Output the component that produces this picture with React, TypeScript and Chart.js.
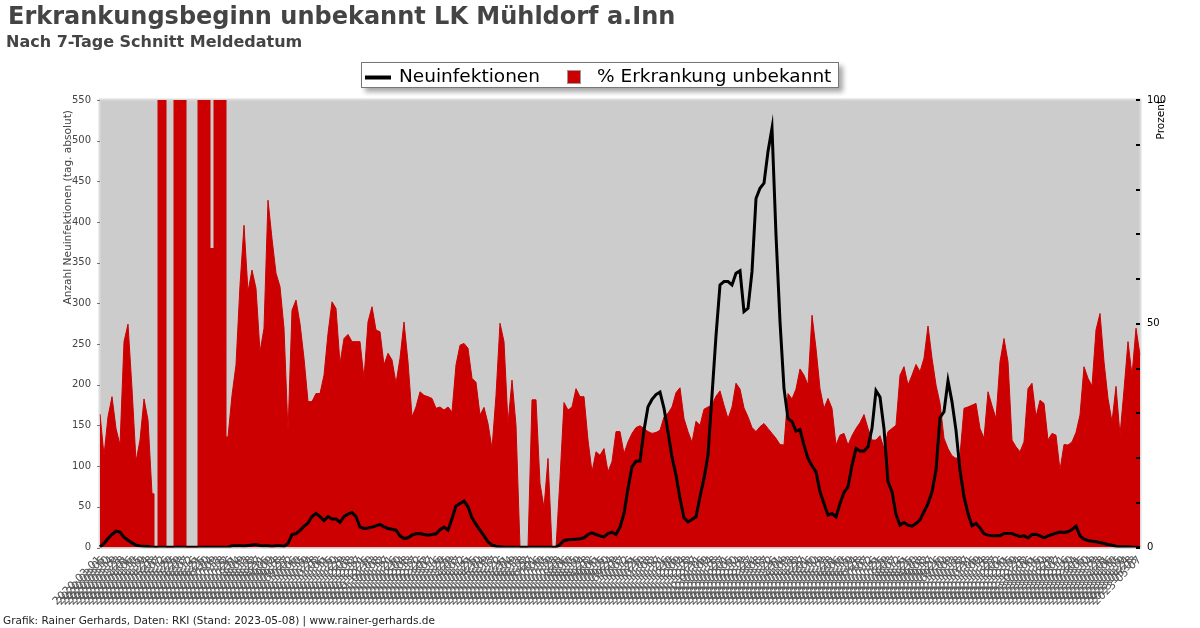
import React, { useEffect, useRef } from "react";
import { Chart, registerables } from "chart.js";

Chart.register(...registerables);

const FONT = '"DejaVu Sans", sans-serif';

const TITLE = "Erkrankungsbeginn unbekannt LK Mühldorf a.Inn";
const SUBTITLE = "Nach 7-Tage Schnitt Meldedatum";
const FOOTER = "Grafik: Rainer Gerhards, Daten: RKI (Stand: 2023-05-08) | www.rainer-gerhards.de";
const LEFT_AXIS_TITLE = "Anzahl Neuinfektionen (tag. absolut)";
const RIGHT_AXIS_TITLE = "Prozent";
const SERIES_LINE = "Neuinfektionen";
const SERIES_AREA = "% Erkrankung unbekannt";

const FIRST_DAY = "2020-03-01";
const LAST_DAY = "2023-05-07";

const LEFT_MAX = 550;
const LEFT_STEP = 50;
const RIGHT_MAX = 100;
const RIGHT_STEP = 10;
const RIGHT_LABELS = [0, 50, 100];

// sample range (spring 2020) where the share jumps between 0 % and 100 % in blocks
const BLOCK_FIRST = 13;
const BLOCK_LAST = 32;

// % of cases with unknown onset of illness (right axis), sampled every ~4.5 days
const percentUnknown = [
  29.8, 20.6, 29.2, 33.7, 26.6, 22.9, 46, 49.9, 35.5, 19.2,
  24, 33.2, 28.5, 12, 0, 100, 100, 0, 0, 100,
  100, 100, 0, 0, 0, 100, 100, 100, 66.8, 100,
  100, 100, 24.7, 34, 40.8, 58.6, 72, 57.2, 62, 57.9,
  43.7, 49, 77.6, 69, 61.3, 58.3, 49, 25.9, 53, 55.3,
  50, 42.3, 32.6, 32.6, 34.4, 34.4, 38.5, 47.8, 54.9, 53.4,
  41.1, 46.7, 47.6, 46, 46, 46, 37.8, 50.4, 53.8, 48.6,
  48.2, 40.8, 43.4, 41.9, 36.7, 42.3, 50.4, 41.5, 29.2, 31.4,
  34.8, 34, 33.7, 33.3, 31.1, 31.4, 30.7, 31.4, 30.3, 40.8,
  45.2, 45.6, 44.5, 37.8, 36.9, 29.6, 31.3, 27.7, 22.1, 34,
  50.1, 46, 27.7, 37.4, 27.3, 0, 0, 0, 33, 33,
  14.3, 8.9, 19.9, 0, 0, 15.4, 32.4, 30.7, 31.4, 35.5,
  33.7, 33.7, 24, 16.9, 21.4, 20.6, 22.1, 16.9, 19.2, 25.9,
  25.9, 21, 23.6, 25.5, 26.8, 27.2, 26.6, 25.9, 25.5, 25.7,
  26.2, 29.2, 30, 31.4, 34.6, 35.7, 28.8, 25.9, 23.5, 28.2,
  27.3, 30.9, 31.4, 31.8, 33.8, 35, 31.8, 28.8, 31.4, 36.7,
  35.4, 31.2, 29.2, 26.8, 25.9, 27, 27.7, 26.6, 25.5, 24.4,
  23, 22.9, 34.4, 33.2, 35.4, 39.9, 38.5, 36.3, 51.9, 44.5,
  35.5, 31.1, 33.3, 31.1, 22.9, 25.1, 25.5, 22.9, 25, 26.6,
  27.9, 29.7, 26.6, 24, 24, 25, 22.1, 25.9, 26.6, 27.3,
  38.5, 40.4, 36.3, 38.5, 40.9, 39.3, 42.3, 49.5, 42.3, 36.3,
  32.2, 24.4, 22.1, 20.5, 19.9, 20.6, 31.1, 31.4, 31.8, 32.2,
  26.6, 24.4, 34.8, 31.7, 28.8, 41.5, 46.7, 41.5, 24, 22.5,
  21.4, 23.6, 35.5, 36.7, 29.2, 32.9, 32.2, 24, 25.5, 25.1,
  17.3, 23, 22.9, 23.6, 25.7, 29.6, 40.4, 37.8, 36.1, 48.6,
  52.3, 41.5, 33.3, 28.1, 36, 25.1, 35.2, 46, 38.5, 49,
  43,
];

// new infections, 7-day average by reporting date (left axis)
const newInfections = [
  0.8, 5, 11, 16, 20, 19, 12.7, 9, 5.7, 2.9,
  2, 1.6, 1.2, 0.4, 0.4, 0.4, 0.4, 0.4, 0.4, 0.4,
  0.4, 0.4, 0.4, 0.4, 0.4, 0.4, 0.4, 0.4, 0.4, 0.4,
  0.4, 0.4, 0.4, 2, 2, 2.5, 2, 2.5, 3, 3.7,
  2.5, 2, 2, 1.6, 2, 2, 1.6, 5, 16, 17,
  21, 26, 30, 38, 42, 38, 33, 38, 35, 35,
  31, 38, 41, 43, 38, 25, 23.4, 24, 25, 26.6,
  28.3, 25.4, 23.4, 22.5, 21.3, 14.3, 11, 11.9, 15.2, 16.8,
  17.2, 16, 15.2, 16, 16.8, 22, 25, 21.3, 35.7, 51,
  54, 57, 50, 36.5, 28.3, 21.3, 14.3, 7, 2.9, 1.6,
  0.8, 0.3, 0.3, 0.3, 0.3, 0.3, 0.3, 0.3, 0.3, 0.3,
  0.3, 0.3, 0.3, 0.3, 0.3, 3.7, 8.6, 9.4, 9.8, 10.2,
  10.7, 11.9, 16, 18, 16, 14.3, 13.1, 17.2, 18.9, 16,
  25, 41.8, 72.6, 99.2, 106, 106, 144, 173, 182, 188,
  191, 171, 142, 111, 89, 60, 36.5, 31.6, 34.4, 37.7,
  62.3, 84.9, 113.6, 187, 260, 322.7, 326.8, 326.8, 322.7, 337,
  340, 290, 294, 339, 429, 441.6, 447.7, 486.7, 515.4, 384,
  277.6, 195.6, 158.7, 154.6, 143, 145, 125.9, 109.5, 100.5, 93,
  68.5, 54, 39.8, 41.8, 37.7, 54, 67.7, 74.6, 101, 121.8,
  118.5, 118.5, 123.8, 146.4, 192.7, 185, 146, 80.8, 68.5, 40.6,
  27.5, 30.8, 27.5, 26.2, 29.5, 34, 43.9, 54, 68.5, 95,
  159.5, 166.8, 205, 179, 144, 95, 62.3, 41.8, 26.6, 29.5,
  24.2, 16.8, 15.2, 14.3, 14.3, 14.3, 17.2, 17.2, 17.2, 15.2,
  13.5, 14.3, 11.9, 16, 16.4, 14.3, 11.9, 14.3, 16, 17.6,
  18.9, 18.5, 19.3, 22.1, 26.2, 14.3, 10.2, 8.6, 7.8, 7,
  6.1, 4.9, 3.7, 2.9, 1.6, 0.8, 0.8, 0.8, 0.4, 0.4,
  0,
];

function makeDateLabels(first: string, last: string, n: number): string[] {
  const a = Date.parse(first + "T00:00:00Z");
  const b = Date.parse(last + "T00:00:00Z");
  const days = Math.round((b - a) / 86400000);
  const out: string[] = [];
  for (let i = 0; i < n; i++) {
    const d = new Date(a + Math.round((i * days) / (n - 1)) * 86400000);
    out.push(d.toISOString().slice(0, 10));
  }
  return out;
}

const dateLabels = makeDateLabels(FIRST_DAY, LAST_DAY, percentUnknown.length);

// polyline part (outside the block period) and stepped block part of the red area
const percentSmooth = percentUnknown.map((v, i) => (i > BLOCK_FIRST && i < BLOCK_LAST ? null : v));
const percentBlocks = percentUnknown.map((v, i) => (i >= BLOCK_FIRST && i <= BLOCK_LAST ? v : null));

const RED = "#cc0000";

const decorPlugin = {
  id: "decor",
  beforeDraw(chart: any) {
    const { ctx, chartArea: a, width, height } = chart;
    ctx.save();
    ctx.fillStyle = "#ffffff";
    ctx.fillRect(0, 0, width, height);
    ctx.fillStyle = "#cccccc";
    ctx.fillRect(a.left, a.top, a.right - a.left, a.bottom - a.top);
    ctx.strokeStyle = "#dcdcdc";
    ctx.lineWidth = 2;
    ctx.strokeRect(a.left - 0.5, a.top - 0.5, a.right - a.left + 1, a.bottom - a.top + 1);
    ctx.restore();
  },
  afterDraw(chart: any) {
    const { ctx, chartArea: a } = chart;
    const y = chart.scales.y;
    const y1 = chart.scales.y1;
    ctx.save();

    // titles
    ctx.fillStyle = "#444444";
    ctx.textAlign = "left";
    ctx.textBaseline = "alphabetic";
    ctx.font = `bold 24px ${FONT}`;
    ctx.fillText(TITLE, 8, 24);
    ctx.font = `bold 16px ${FONT}`;
    ctx.fillText(SUBTITLE, 6, 47);

    // legend box with shadow
    const lx = 361, ly = 62, lw = 478, lh = 26;
    ctx.save();
    ctx.shadowColor = "rgba(0,0,0,0.35)";
    ctx.shadowBlur = 5;
    ctx.shadowOffsetX = 4;
    ctx.shadowOffsetY = 4;
    ctx.fillStyle = "#ffffff";
    ctx.fillRect(lx, ly, lw, lh);
    ctx.restore();
    ctx.strokeStyle = "#777777";
    ctx.lineWidth = 1;
    ctx.strokeRect(lx + 0.5, ly + 0.5, lw - 1, lh - 1);
    const ds = chart.data.datasets;
    ctx.strokeStyle = ds[0].borderColor;
    ctx.lineWidth = 4;
    ctx.beginPath();
    ctx.moveTo(365, 77.5);
    ctx.lineTo(391, 77.5);
    ctx.stroke();
    ctx.fillStyle = "#000000";
    ctx.font = `18.5px ${FONT}`;
    ctx.textBaseline = "middle";
    ctx.fillText(ds[0].label, 399, 77);
    ctx.fillStyle = ds[1].backgroundColor;
    ctx.fillRect(567, 70, 14, 14);
    ctx.strokeStyle = "#999999";
    ctx.lineWidth = 1;
    ctx.strokeRect(567.5, 70.5, 13, 13);
    ctx.fillStyle = "#000000";
    ctx.fillText(ds[1].label, 597, 77);

    // left axis title
    ctx.save();
    ctx.translate(68, 110);
    ctx.rotate(-Math.PI / 2);
    ctx.font = `10.6px ${FONT}`;
    ctx.fillStyle = "#444444";
    ctx.textAlign = "right";
    ctx.textBaseline = "middle";
    ctx.fillText(LEFT_AXIS_TITLE, 0, 0);
    ctx.restore();

    // right axis title
    ctx.save();
    ctx.translate(1161, 100);
    ctx.rotate(-Math.PI / 2);
    ctx.font = `10.5px ${FONT}`;
    ctx.fillStyle = "#000000";
    ctx.textAlign = "right";
    ctx.textBaseline = "middle";
    ctx.fillText(RIGHT_AXIS_TITLE, 0, 0);
    ctx.restore();

    // left tick marks
    ctx.fillStyle = "#777777";
    for (let v = 0; v <= LEFT_MAX; v += LEFT_STEP) {
      const py = Math.round(y.getPixelForValue(v));
      ctx.fillRect(a.left - 3, py, 3, 1);
    }
    // right tick marks (inside plot)
    ctx.fillStyle = "#000000";
    for (let v = 0; v <= RIGHT_MAX; v += RIGHT_STEP) {
      const py = Math.round(y1.getPixelForValue(v));
      ctx.fillRect(a.right - 4, py - 1, 4, 2);
    }

    // footer
    ctx.fillStyle = "#222222";
    ctx.font = `10.5px ${FONT}`;
    ctx.textAlign = "left";
    ctx.textBaseline = "middle";
    ctx.fillText(FOOTER, 3, 621);
    ctx.restore();
  },
};

export default function App() {
  const ref = useRef<HTMLCanvasElement | null>(null);
  useEffect(() => {
    if (!ref.current) return;
    const chart = new Chart(ref.current, {
      type: "line",
      data: {
        labels: dateLabels,
        datasets: [
          {
            label: SERIES_LINE,
            data: newInfections,
            yAxisID: "y",
            borderColor: "#000000",
            borderWidth: 3,
            pointRadius: 0,
            fill: false,
            tension: 0,
            order: 0,
          },
          {
            label: SERIES_AREA,
            data: percentSmooth,
            yAxisID: "y1",
            borderColor: RED,
            backgroundColor: RED,
            borderWidth: 1,
            pointRadius: 0,
            fill: "origin",
            spanGaps: false,
            tension: 0,
            order: 1,
          },
          {
            label: SERIES_AREA,
            data: percentBlocks,
            yAxisID: "y1",
            borderColor: RED,
            backgroundColor: RED,
            borderWidth: 1,
            pointRadius: 0,
            fill: "origin",
            stepped: "middle",
            spanGaps: false,
            order: 2,
          },
        ],
      },
      options: {
        responsive: false,
        animation: false,
        events: [],
        layout: { padding: { top: 100, left: 0, right: 0, bottom: 0 } },
        plugins: {
          legend: { display: false },
          title: { display: false },
          tooltip: { enabled: false },
        },
        scales: {
          x: {
            type: "category",
            offset: false,
            grid: { display: false, drawTicks: false },
            border: { display: false },
            ticks: {
              autoSkip: false,
              minRotation: 45,
              maxRotation: 45,
              padding: 6,
              color: "#555555",
              font: { family: FONT, size: 11 },
            },
            afterFit: (s: any) => {
              s.height = 80.5;
            },
          },
          y: {
            position: "left",
            min: 0,
            max: LEFT_MAX,
            grid: { display: false, drawTicks: false },
            border: { display: false },
            ticks: {
              stepSize: LEFT_STEP,
              padding: 9,
              color: "#444444",
              font: { family: FONT, size: 10 },
            },
            afterFit: (s: any) => {
              s.width = 100;
            },
          },
          y1: {
            position: "right",
            min: 0,
            max: RIGHT_MAX,
            grid: { display: false, drawTicks: false },
            border: { display: false },
            ticks: {
              stepSize: RIGHT_STEP,
              padding: 7,
              color: "#000000",
              font: { family: FONT, size: 10 },
              callback: (v: any) => (RIGHT_LABELS.includes(Number(v)) ? String(v) : ""),
            },
            afterFit: (s: any) => {
              s.width = 60;
            },
          },
        },
      },
      plugins: [decorPlugin],
    });
    return () => chart.destroy();
  }, []);

  return (
    <div style={{ position: "fixed", left: 0, top: 0, width: 1200, height: 628, background: "#fff" }}>
      <canvas ref={ref} width={1200} height={628} style={{ display: "block" }} />
    </div>
  );
}
